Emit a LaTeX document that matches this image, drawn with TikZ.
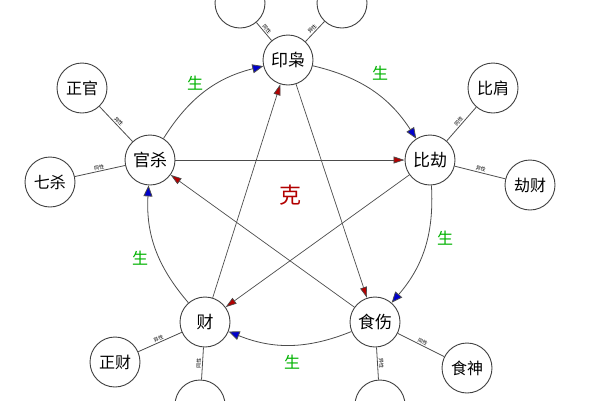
\documentclass[tikz,border=0pt]{standalone}
\usepackage{fontspec}
\newfontfamily\cjk{Noto Sans CJK SC}
\usetikzlibrary{arrows.meta}
\begin{document}
\begin{tikzpicture}[x=1pt,y=1pt,font=\cjk,
  main/.style={circle,draw=black!75,line width=0.9pt,fill=white,minimum size=50pt,inner sep=0pt,font=\cjk\fontsize{17}{17}\selectfont},
  sat/.style={circle,draw=black!75,line width=0.9pt,fill=white,minimum size=50pt,inner sep=0pt,font=\cjk\fontsize{16}{16}\selectfont},
  ring/.style={draw=black!70,line width=0.8pt,-{Triangle[length=11pt,width=9pt,fill=blue!80!black]}},
  star/.style={draw=black!70,line width=0.7pt,-{Triangle[length=11pt,width=7pt,fill=red!70!black]}},
  link/.style={draw=black!70,line width=0.8pt},
  tiny/.style={font=\cjk\fontsize{5}{5}\selectfont,sloped,above,inner sep=1pt},
  sheng/.style={text=green!70!black,font=\cjk\fontsize{16}{16}\selectfont}]
\useasboundingbox (0,0) rectangle (600,-400);
\node[main] (yin) at (288,-60) {印枭};
\node[main] (bi) at (430,-160) {比劫};
\node[main] (shi) at (375,-322) {食伤};
\node[main] (cai) at (205,-322) {财};
\node[main] (guan) at (150,-160) {官杀};
\node[sat] (zg) at (82,-88) {正官};
\node[sat] (qs) at (50,-182) {七杀};
\node[sat] (bj) at (493,-88) {比肩};
\node[sat] (jc) at (530,-185) {劫财};
\node[sat] (ss) at (467,-368) {食神};
\node[sat] (zc) at (115,-362) {正财};
\node[sat] (t1) at (240,-3) {};
\node[sat] (t2) at (342,-3) {};
\node[sat] (b1) at (200,-405) {};
\node[sat] (b2) at (380,-405) {};
\draw[link] (zg) -- node[tiny]{异性} (guan);
\draw[link] (qs) -- node[tiny]{同性} (guan);
\draw[link] (bj) -- node[tiny]{同性} (bi);
\draw[link] (jc) -- node[tiny]{异性} (bi);
\draw[link] (ss) -- node[tiny]{同性} (shi);
\draw[link] (zc) -- node[tiny]{异性} (cai);
\draw[link] (t1) -- node[tiny]{同性} (yin);
\draw[link] (t2) -- node[tiny]{异性} (yin);
\draw[link] (b1) -- node[tiny]{同性} (cai);
\draw[link] (b2) -- node[tiny]{异性} (shi);
\draw[ring] (yin) to[bend left=22] (bi);
\draw[ring] (bi) to[bend left=22] (shi);
\draw[ring] (shi) to[bend left=22] (cai);
\draw[ring] (cai) to[bend left=22] (guan);
\draw[ring] (guan) to[bend left=22] (yin);
\draw[star] (yin) -- (shi);
\draw[star] (shi) -- (guan);
\draw[star] (guan) -- (bi);
\draw[star] (bi) -- (cai);
\draw[star] (cai) -- (yin);
\node[sheng] at (195,-83) {生};
\node[sheng] at (380,-73) {生};
\node[sheng] at (445,-238) {生};
\node[sheng] at (292,-362) {生};
\node[sheng] at (140,-258) {生};
\node[text=red!70!black,font=\cjk\fontsize{22}{22}\selectfont] at (290,-195) {克};
\end{tikzpicture}
\end{document}
